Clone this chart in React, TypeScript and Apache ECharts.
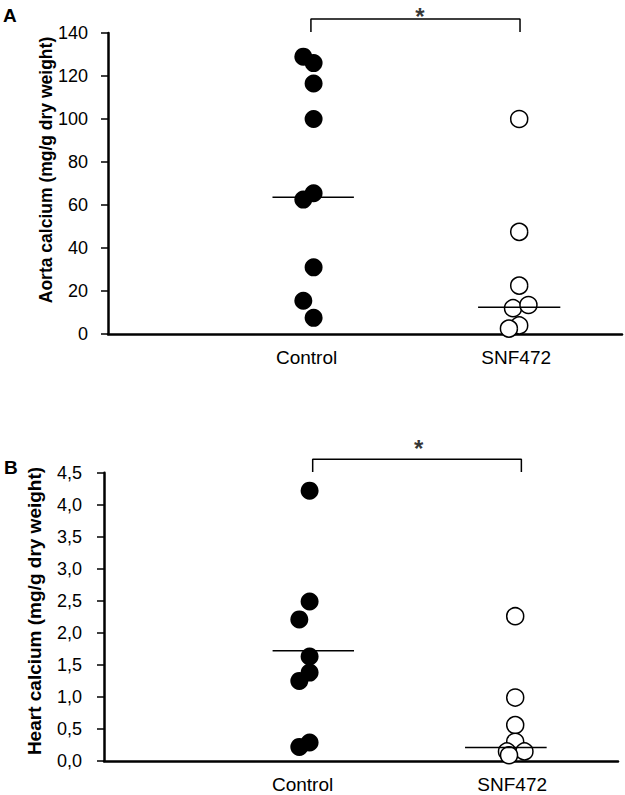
import React, { useEffect, useRef } from "react";
import * as echarts from "echarts";

// ---- Data ----
const categories = ["Control", "SNF472"];
const categoryPos = [1, 2];

const aortaControl = [129, 126, 116.5, 100, 65.5, 62.5, 31, 15.5, 7.5];
const aortaControlJitter = [-0.05, 0, 0, 0, 0, -0.05, 0, -0.05, 0];
const aortaSNF = [100, 47.5, 22.5, 12, 13.5, 4, 2.5];
const aortaSNFJitter = [0, 0, 0, -0.03, 0.045, 0, -0.05];
const aortaMedians = [63.6, 12.4];

const heartControl = [4.22, 2.49, 2.21, 1.63, 1.38, 1.25, 0.29, 0.22];
const heartControlJitter = [0, 0, -0.05, 0, 0, -0.05, 0, -0.05];
const heartSNF = [2.26, 0.99, 0.56, 0.3, 0.15, 0.15, 0.09];
const heartSNFJitter = [0, 0, 0, 0, -0.04, 0.045, -0.03];
const heartMedians = [1.72, 0.21];

const aortaTicks = { min: 0, max: 140, interval: 20 };
const heartTicks = { min: 0, max: 4.5, interval: 0.5 };

const NARROW = "'Liberation Sans Narrow', 'Arial Narrow', 'Liberation Sans', Arial, sans-serif";
const BOLD = "'Liberation Sans', Arial, sans-serif";

function pts(vals: number[], jit: number[], base: number) {
  return vals.map((v, i) => [base + jit[i], v]);
}

export default function App() {
  const ref = useRef<HTMLDivElement>(null);
  useEffect(() => {
    document.body.style.margin = "0";
    const chart = echarts.init(ref.current!, null, { renderer: "svg" });

    const xAxisBase = (gridIndex: number) => ({
      type: "value",
      gridIndex,
      min: 0,
      max: 2.5,
      interval: 1,
      splitLine: { show: false },
      axisTick: { show: false },
      axisLine: { show: true, onZero: false, lineStyle: { color: "#000", width: 2.5 } },
      axisLabel: {
        margin: 14,
        color: "#000",
        fontFamily: NARROW,
        fontSize: 19,
        showMaxLabel: false,
        formatter: (v: number) => {
          const i = categoryPos.indexOf(v);
          if (i < 0) return "";
          return i === 0 ? `{c|${categories[i]}}` : `{s|${categories[i]}}`;
        },
        rich: {
          c: { fontFamily: NARROW, fontSize: 19, color: "#000", padding: [0, 14, 0, 0] },
          s: { fontFamily: NARROW, fontSize: 19, color: "#000", padding: [0, 6, 0, 0] },
        },
      },
    });

    const yAxisBase = (gridIndex: number, t: any, fmt: (v: number) => string, margin: number) => ({
      type: "value",
      gridIndex,
      min: t.min,
      max: t.max,
      interval: t.interval,
      splitLine: { show: false },
      axisLine: { show: true, lineStyle: { color: "#000", width: 2.5 } },
      axisTick: { show: true, inside: false, length: 7, lineStyle: { color: "#000", width: 1.5 } },
      axisLabel: { color: "#000", fontFamily: NARROW, fontSize: 18, margin, formatter: fmt },
    });

    const filled = { color: "#000", opacity: 1 };
    const open = { color: "#fff", borderColor: "#000", borderWidth: 1.5, opacity: 1 };
    const lineStyle = { color: "#000", width: 1.5 };

    const median = (gi: number, x0: number, x1: number, y: number) => ({
      type: "line",
      xAxisIndex: gi,
      yAxisIndex: gi,
      data: [[x0, y], [x1, y]],
      symbol: "none",
      lineStyle,
      z: 5,
      silent: true,
    });

    const bracket = (gi: number, xa: number, xb: number, yLow: number, yHigh: number) => ({
      type: "line",
      xAxisIndex: gi,
      yAxisIndex: gi,
      data: [[xa, yLow], [xa, yHigh], [xb, yHigh], [xb, yLow]],
      symbol: "none",
      clip: false,
      lineStyle,
      silent: true,
    });

    const star = (gi: number, x: number, y: number, dy: number) => ({
      type: "scatter",
      xAxisIndex: gi,
      yAxisIndex: gi,
      data: [[x, y]],
      symbolSize: 0,
      clip: false,
      silent: true,
      label: {
        show: true,
        position: "inside",
        offset: [0, dy],
        formatter: "*",
        color: "#000",
        fontFamily: BOLD,
        fontWeight: "bold",
        fontSize: 24,
      },
    });

    chart.setOption({
      animation: false,
      grid: [
        { left: 108, top: 33, width: 514, height: 301 },
        { left: 104, top: 472.7, width: 514, height: 288.3 },
      ],
      xAxis: [xAxisBase(0), xAxisBase(1)],
      yAxis: [
        yAxisBase(0, aortaTicks, (v: number) => String(v), 20),
        yAxisBase(1, heartTicks, (v: number) => v.toFixed(1).replace(".", ","), 22),
      ],
      graphic: [
        { type: "text", x: 3, y: 6, style: { text: "A", fontFamily: BOLD, fontWeight: "bold", fontSize: 19, fill: "#000" } },
        { type: "text", x: 4, y: 458, style: { text: "B", fontFamily: BOLD, fontWeight: "bold", fontSize: 19, fill: "#000" } },
        {
          type: "text",
          x: 46,
          y: 170,
          rotation: Math.PI / 2,
          style: {
            text: "Aorta calcium (mg/g dry weight)",
            fontFamily: BOLD,
            fontWeight: "bold",
            fontSize: 17.5,
            fill: "#000",
            align: "center",
            verticalAlign: "middle",
          },
        },
        {
          type: "text",
          x: 34,
          y: 611,
          rotation: Math.PI / 2,
          style: {
            text: "Heart calcium (mg/g dry weight)",
            fontFamily: BOLD,
            fontWeight: "bold",
            fontSize: 19,
            fill: "#000",
            align: "center",
            verticalAlign: "middle",
          },
        },
      ],
      series: [
        {
          type: "scatter",
          xAxisIndex: 0,
          yAxisIndex: 0,
          data: pts(aortaControl, aortaControlJitter, categoryPos[0]),
          symbolSize: 18,
          itemStyle: filled,
          z: 3,
        },
        {
          type: "scatter",
          xAxisIndex: 0,
          yAxisIndex: 0,
          data: pts(aortaSNF, aortaSNFJitter, categoryPos[1]),
          symbolSize: 17,
          itemStyle: open,
          z: 3,
        },
        median(0, 0.8, 1.196, aortaMedians[0]),
        median(0, 1.8, 2.2, aortaMedians[1]),
        bracket(0, 0.987, 2.004, 140.5, 146.5),
        star(0, 1.517, 146.5, -3),
        {
          type: "scatter",
          xAxisIndex: 1,
          yAxisIndex: 1,
          data: pts(heartControl, heartControlJitter, categoryPos[0]),
          symbolSize: 18,
          itemStyle: filled,
          z: 3,
        },
        {
          type: "scatter",
          xAxisIndex: 1,
          yAxisIndex: 1,
          data: pts(heartSNF, heartSNFJitter, categoryPos[1]),
          symbolSize: 17,
          itemStyle: open,
          z: 3,
        },
        median(1, 0.82, 1.216, heartMedians[0]),
        median(1, 1.756, 2.153, heartMedians[1]),
        bracket(1, 1.015, 2.03, 4.51, 4.71),
        star(1, 1.53, 4.71, -11),
      ],
    });
    return () => chart.dispose();
  }, []);
  return <div ref={ref} style={{ width: 625, height: 795 }} />;
}
